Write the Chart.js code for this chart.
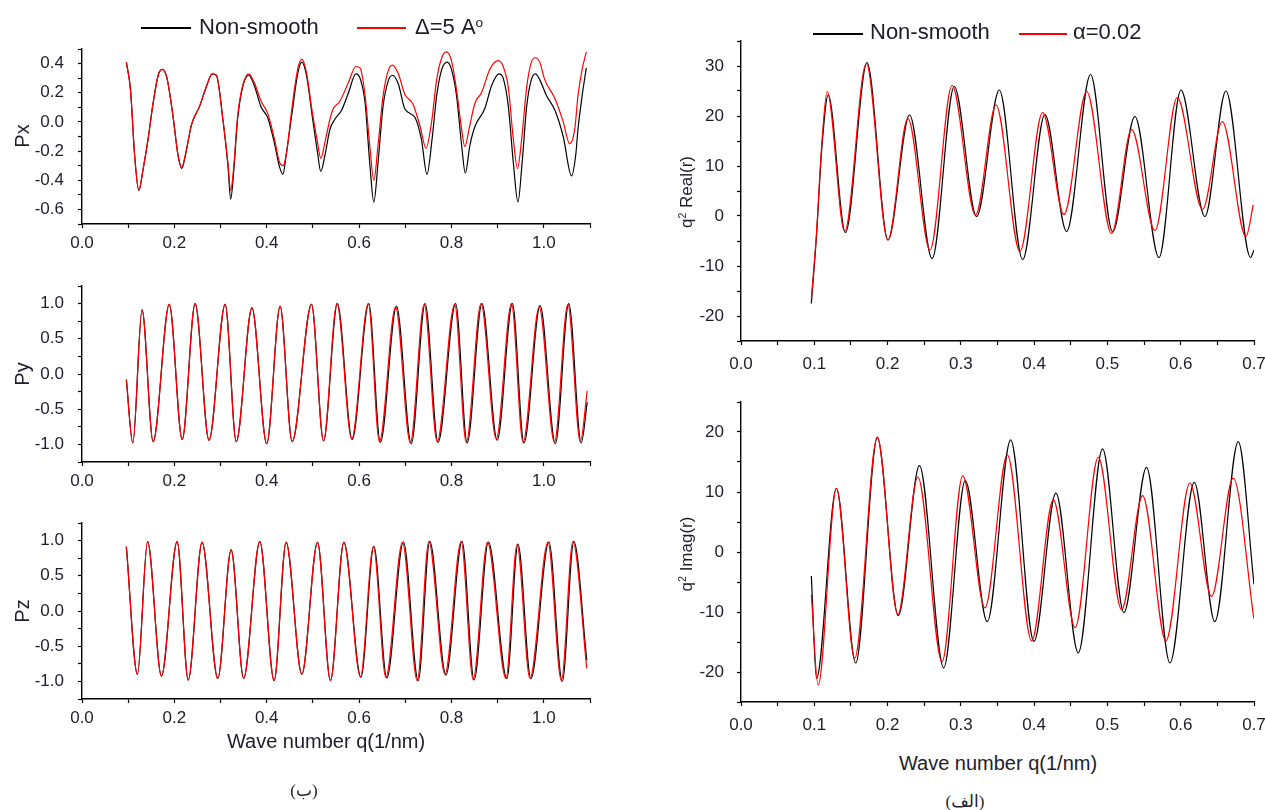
<!DOCTYPE html>
<html>
<head>
<meta charset="utf-8">
<script src="https://cdn.jsdelivr.net/npm/chart.js@4.4.1/dist/chart.umd.min.js"></script>
<style>
  body { margin: 0; width: 1265px; height: 810px; position: relative; overflow: hidden; background: #fff;
         font-family: "Liberation Sans", Arial, sans-serif; color: #1d1d2b; }
  canvas { position: absolute; }
  .t { position: absolute; white-space: nowrap; line-height: 1; }
  .c { transform: translate(-50%, -50%); }
  .yt { transform: translate(-50%, -50%) rotate(-90deg); }
  .ln { position: absolute; height: 1.5px; }
  sup { font-size: 62%; line-height: 0; vertical-align: 0.55em; }
  .ar { font-family: "Liberation Serif", "DejaVu Serif", "DejaVu Sans", serif; }
</style>
</head>
<body>
<!-- 왼쪽 세 패널 (Px, Py, Pz) -->
<canvas id="px" width="600" height="216" style="left:0;top:40px"></canvas>
<canvas id="py" width="600" height="217" style="left:0;top:277px"></canvas>
<canvas id="pz" width="600" height="217" style="left:0;top:514px"></canvas>
<!-- 오른쪽 두 패널 (Real, Imag) -->
<canvas id="real" width="605" height="345" style="left:660px;top:32px"></canvas>
<canvas id="imag" width="605" height="345" style="left:660px;top:393px"></canvas>

<div class="ln" style="left:141px;top:27px;width:50px;background:#000"></div>
<div class="t" style="left:199px;top:16px;font-size:22px">Non-smooth</div>
<div class="ln" style="left:357px;top:27px;width:49px;background:#ff0000"></div>
<div class="t" style="left:415px;top:16px;font-size:22px">&Delta;=5 A<sup>o</sup></div>

<div class="ln" style="left:813px;top:33px;width:50px;background:#000"></div>
<div class="t" style="left:870px;top:21px;font-size:22px">Non-smooth</div>
<div class="ln" style="left:1019px;top:33px;width:48px;background:#ff0000"></div>
<div class="t" style="left:1073px;top:21px;font-size:22px">&alpha;=0.02</div>

<div class="t yt" style="left:22px;top:136px;font-size:20px">Px</div>
<div class="t yt" style="left:22px;top:374px;font-size:20px">Py</div>
<div class="t yt" style="left:22px;top:611px;font-size:20px">Pz</div>
<div class="t yt" style="left:686px;top:192px;font-size:17px">q<sup>2</sup> Real(r)</div>
<div class="t yt" style="left:686px;top:554px;font-size:17px">q<sup>2</sup> Imag(r)</div>

<div class="t c" style="left:326px;top:741px;font-size:20px">Wave number q(1/nm)</div>
<div class="t c" style="left:998px;top:763px;font-size:20px">Wave number q(1/nm)</div>
<div class="t c ar" style="left:304px;top:790px;font-size:17px">(ب)</div>
<div class="t c ar" style="left:965px;top:801px;font-size:17px">(الف)</div>

<script>
// 그림에서 읽은 값 (극값과 어깨 부분 위주)
const pxRedQ = [0.096,0.105,0.114,0.123,0.132,0.143,0.154,0.165,0.174,0.184,0.197,0.208,0.216,0.225,0.237,0.255,0.269,0.282,0.291,0.305,0.316,0.322,0.328,0.337,0.348,0.361,0.373,0.388,0.402,0.417,0.427,0.435,0.442,0.456,0.467,0.476,0.486,0.499,0.510,0.517,0.526,0.537,0.544,0.558,0.577,0.593,0.602,0.613,0.623,0.632,0.641,0.652,0.663,0.672,0.685,0.699,0.717,0.732,0.745,0.757,0.768,0.779,0.789,0.800,0.811,0.822,0.829,0.838,0.851,0.865,0.883,0.901,0.912,0.923,0.934,0.943,0.952,0.963,0.973,0.982,0.991,1.002,1.024,1.042,1.056,1.067,1.074,1.083,1.092]
const pxRedY = [0.41,0.22,-0.23,-0.47,-0.33,-0.12,0.13,0.32,0.36,0.30,0.04,-0.23,-0.31,-0.21,-0.02,0.11,0.24,0.33,0.32,0.02,-0.28,-0.47,-0.33,0.04,0.25,0.33,0.27,0.14,0.06,-0.12,-0.27,-0.30,-0.23,0.13,0.36,0.43,0.34,0.06,-0.14,-0.25,-0.14,0.02,0.09,0.14,0.27,0.38,0.37,0.18,-0.16,-0.40,-0.16,0.18,0.35,0.39,0.33,0.19,0.12,-0.03,-0.18,0.00,0.29,0.44,0.48,0.42,0.22,-0.05,-0.17,-0.05,0.13,0.20,0.36,0.42,0.38,0.24,-0.12,-0.32,-0.12,0.24,0.41,0.44,0.41,0.29,0.16,0.00,-0.15,-0.05,0.18,0.36,0.48]
const pxBlackQ = [0.096,0.105,0.114,0.123,0.132,0.143,0.154,0.165,0.174,0.184,0.197,0.208,0.216,0.225,0.237,0.255,0.269,0.282,0.291,0.305,0.316,0.322,0.328,0.337,0.348,0.361,0.373,0.388,0.402,0.417,0.427,0.435,0.442,0.456,0.467,0.476,0.486,0.499,0.510,0.517,0.526,0.537,0.548,0.562,0.577,0.593,0.602,0.613,0.623,0.632,0.641,0.652,0.663,0.672,0.685,0.699,0.721,0.735,0.747,0.758,0.768,0.779,0.791,0.800,0.811,0.822,0.830,0.840,0.851,0.872,0.887,0.903,0.912,0.923,0.934,0.944,0.953,0.963,0.973,0.982,0.991,1.006,1.024,1.042,1.060,1.069,1.074,1.083,1.092]
const pxBlackY = [0.41,0.22,-0.23,-0.47,-0.33,-0.12,0.13,0.32,0.36,0.30,0.04,-0.23,-0.32,-0.21,-0.02,0.11,0.24,0.33,0.32,0.02,-0.30,-0.53,-0.36,0.02,0.24,0.32,0.25,0.10,0.03,-0.15,-0.30,-0.36,-0.23,0.09,0.33,0.41,0.32,0.03,-0.21,-0.34,-0.23,-0.05,0.02,0.08,0.20,0.33,0.30,0.13,-0.28,-0.55,-0.28,0.11,0.28,0.32,0.26,0.09,0.03,-0.12,-0.36,-0.12,0.18,0.36,0.41,0.36,0.18,-0.16,-0.35,-0.16,-0.03,0.09,0.25,0.33,0.30,0.11,-0.28,-0.55,-0.28,0.11,0.29,0.33,0.29,0.18,0.08,-0.10,-0.37,-0.23,-0.05,0.18,0.37]

const pyRedQ = [0.096,0.110,0.130,0.154,0.189,0.217,0.245,0.275,0.310,0.334,0.368,0.400,0.429,0.455,0.497,0.523,0.552,0.584,0.620,0.644,0.679,0.711,0.741,0.769,0.807,0.832,0.864,0.897,0.930,0.955,0.990,1.023,1.052,1.079,1.094]
const pyRedY = [-0.08,-0.98,0.91,-0.96,0.99,-0.93,1.00,-0.94,0.99,-0.96,0.94,-0.99,0.96,-0.96,0.99,-0.95,1.00,-0.92,1.00,-0.96,0.95,-0.98,0.99,-0.96,0.99,-0.97,1.00,-0.92,1.00,-0.97,0.95,-0.97,0.99,-0.96,-0.24]
const pyBlackQ = [0.096,0.110,0.130,0.154,0.189,0.217,0.245,0.275,0.310,0.334,0.368,0.400,0.429,0.455,0.497,0.523,0.553,0.585,0.621,0.646,0.681,0.713,0.743,0.771,0.809,0.834,0.866,0.899,0.932,0.957,0.992,1.025,1.054,1.081,1.094]
const pyBlackY = [-0.08,-0.98,0.91,-0.96,0.99,-0.93,1.00,-0.94,0.99,-0.96,0.94,-0.99,0.96,-0.96,0.99,-0.95,1.00,-0.93,1.00,-0.97,0.96,-0.99,1.00,-0.97,1.00,-0.98,1.00,-0.94,1.00,-0.98,0.97,-0.99,1.00,-0.98,-0.40]

const pzRedQ = [0.096,0.120,0.142,0.172,0.206,0.230,0.260,0.294,0.323,0.350,0.385,0.416,0.442,0.476,0.510,0.538,0.567,0.603,0.631,0.658,0.694,0.726,0.751,0.786,0.821,0.847,0.878,0.918,0.942,0.970,1.009,1.038,1.063,1.093]
const pzRedY = [0.915,-0.896,0.986,-0.924,0.986,-0.981,0.976,-0.957,0.867,-0.957,0.986,-0.99,0.976,-0.896,0.976,-0.99,0.976,-0.934,0.915,-0.943,0.976,-0.99,0.986,-0.896,0.986,-0.972,0.976,-0.957,0.938,-0.957,0.976,-0.99,0.986,-0.815]
const pzBlackQ = [0.096,0.120,0.142,0.172,0.206,0.230,0.260,0.294,0.323,0.350,0.385,0.416,0.442,0.476,0.510,0.538,0.567,0.604,0.632,0.660,0.696,0.728,0.753,0.788,0.823,0.849,0.880,0.920,0.944,0.972,1.011,1.040,1.065,1.093]
const pzBlackY = [0.915,-0.90,0.986,-0.924,0.986,-0.981,0.976,-0.957,0.867,-0.957,0.986,-0.99,0.976,-0.90,0.976,-0.99,0.976,-0.94,0.92,-0.95,0.98,-0.99,0.99,-0.91,0.99,-0.98,0.98,-0.96,0.95,-0.96,0.98,-1.0,0.99,-0.70]

const realRedQ = [0.096,0.103,0.110,0.1175,0.1415,0.171,0.2005,0.2277,0.258,0.288,0.320,0.348,0.3806,0.4115,0.4407,0.4716,0.5057,0.533,0.5648,0.5953,0.6298,0.6567,0.689,0.699]
const realRedY = [-16.5,-3.5,13.9,24.9,-3.1,30.5,-4.8,19.5,-6.8,26.1,0.2,22.2,-7.1,20.7,0.3,24.9,-3.5,17.3,-2.9,23.7,1.3,18.9,-4.1,2.2]
const realBlackQ = [0.096,0.103,0.110,0.119,0.1425,0.172,0.2005,0.230,0.2608,0.291,0.3215,0.3525,0.3843,0.4147,0.4443,0.477,0.507,0.5375,0.5703,0.6003,0.633,0.6617,0.6953,0.700]
const realBlackY = [-17.5,-4,13,24.2,-3.3,30.7,-4.8,20.2,-8.5,25.9,-0.1,25.2,-8.7,20.3,-3.1,28.3,-3.1,19.9,-8.3,25.2,-0.1,25.0,-8.3,-6.8]

const imagRedQ = [0.096,0.1052,0.1302,0.1551,0.186,0.214,0.2413,0.2744,0.3025,0.3329,0.3634,0.3966,0.4261,0.456,0.4875,0.5193,0.548,0.5798,0.6125,0.642,0.6716,0.6998]
const imagRedY = [-7.1,-22.2,10.6,-17.7,19.2,-10.4,12.5,-18.3,12.7,-9.3,16.2,-14.8,8.7,-12.6,15.8,-9.6,9.4,-14.8,11.5,-7.4,12.3,-11.1]
const imagBlackQ = [0.096,0.103,0.1302,0.1565,0.186,0.2145,0.2435,0.2766,0.306,0.336,0.368,0.3997,0.4297,0.4602,0.4934,0.5225,0.5534,0.5853,0.6185,0.6466,0.6785,0.700]
const imagBlackY = [-4.0,-21.1,10.6,-18.5,19.0,-10.6,14.4,-19.3,11.9,-11.6,18.7,-14.9,9.8,-16.8,17.2,-10.1,14.1,-18.5,11.6,-11.6,18.4,-5.4]

const RED = "#ff0000"
const BLACK = "#000000"
const INK = "#1d1d2b"

Chart.defaults.font.family = '"Liberation Sans", Arial, sans-serif'

const pts = (qs, vs) => qs.map((q, i) => ({ x: q, y: vs[i] }))

const line = (data, color, order) => ({
  data, borderColor: color, borderWidth: 1.2, pointRadius: 0,
  cubicInterpolationMode: "monotone", fill: false, order,
})

// 눈금: step마다 표시, every번째마다 라벨
function axis(min, max, step, every, digits, size, pad, horizontal) {
  return {
    type: "linear", min, max,
    border: { display: true, color: "#000", width: 1.4 },
    grid: { drawOnChartArea: false, drawTicks: true, tickLength: 4, tickColor: "#000", tickWidth: 1.2 },
    ticks: {
      stepSize: step, autoSkip: false, maxRotation: 0, color: INK, padding: pad,
      font: { size: 17 },
      callback: (v) => (Math.round(v / step) % every === 0 ? v.toFixed(digits) : ""),
    },
    afterFit: (s) => {
      if (horizontal) s.height = size
      else s.width = size
      s.paddingLeft = s.paddingRight = s.paddingTop = s.paddingBottom = 0
    },
  }
}

function panel(id, red, black, x, y, padRight) {
  new Chart(document.getElementById(id), {
    type: "line",
    data: { datasets: [line(red, RED, 1), line(black, BLACK, 2)] },
    options: {
      responsive: false,
      animation: false,
      layout: { padding: { top: 9, right: padRight, left: 0, bottom: 0 } },
      plugins: { legend: { display: false }, tooltip: { enabled: false } },
      scales: { x, y },
    },
  })
}

const leftX = () => axis(0, 1.1, 0.1, 2, 1, 32, 5, true)
const rightX = () => axis(0, 0.7, 0.05, 2, 1, 36, 9, true)

panel("px", pts(pxRedQ, pxRedY), pts(pxBlackQ, pxBlackY), leftX(), axis(-0.7, 0.5, 0.1, 2, 1, 82, 14, false), 10)
panel("py", pts(pyRedQ, pyRedY), pts(pyBlackQ, pyBlackY), leftX(), axis(-1.25, 1.25, 0.25, 2, 1, 82, 14, false), 10)
panel("pz", pts(pzRedQ, pzRedY), pts(pzBlackQ, pzBlackY), leftX(), axis(-1.25, 1.25, 0.25, 2, 1, 82, 14, false), 10)
panel("real", pts(realRedQ, realRedY), pts(realBlackQ, realBlackY), rightX(), axis(-25, 35, 5, 2, 0, 81, 13, false), 11)
panel("imag", pts(imagRedQ, imagRedY), pts(imagBlackQ, imagBlackY), rightX(), axis(-25, 25, 5, 2, 0, 81, 13, false), 11)
</script>
</body>
</html>
